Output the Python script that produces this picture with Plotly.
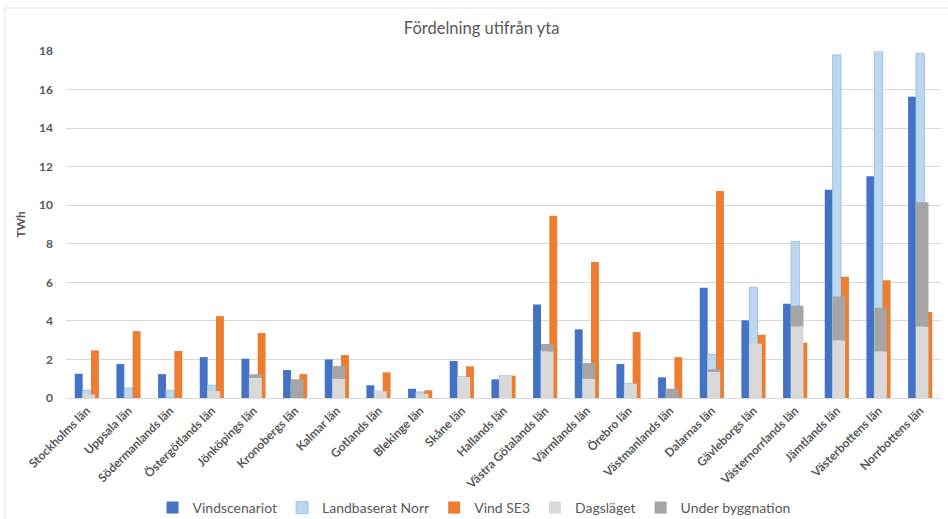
import plotly.graph_objects as go

counties = ["Stockholms län", "Uppsala län", "Södermanlands län", "Östergötlands län",
            "Jönköpings län", "Kronobergs län", "Kalmar län", "Gotlands län", "Blekinge län",
            "Skåne län", "Hallands län", "Västra Götalands län", "Värmlands län", "Örebro län",
            "Västmanlands län", "Dalarnas län", "Gävleborgs län", "Västernorrlands län",
            "Jämtlands län", "Västerbottens län", "Norrbottens län"]

vindscenariot = [1.26, 1.76, 1.24, 2.12, 2.04, 1.45, 2.0, 0.66, 0.48, 1.92, 0.97, 4.85, 3.56,
                 1.76, 1.07, 5.72, 4.03, 4.89, 10.8, 11.5, 15.63]
landbaserat_norr = [0.4, 0.52, 0.4, 0.66, 1.1, 0.9, 1.0, 0.35, 0.31, 1.1, 1.17, 2.5, 1.0,
                    0.75, 0.45, 2.26, 5.75, 8.12, 17.8, 19.5, 17.88]
vind_se3 = [2.47, 3.47, 2.44, 4.25, 3.37, 1.24, 2.23, 1.33, 0.4, 1.64, 1.16, 9.45, 7.05,
            3.42, 2.12, 10.74, 3.28, 2.87, 6.29, 6.11, 4.46]
dagslaget = [0.18, 0.0, 0.0, 0.36, 1.04, 0.0, 1.0, 0.35, 0.22, 1.09, 1.17, 2.42, 1.0,
             0.74, 0.0, 1.4, 2.82, 3.71, 2.99, 2.42, 3.71]
under_byggnation = [0.0, 0.0, 0.0, 0.0, 0.19, 0.97, 0.66, 0.0, 0.0, 0.0, 0.0, 0.38, 0.81,
                    0.0, 0.48, 0.09, 0.0, 1.08, 2.28, 2.26, 6.45]

y_ticks = [0, 2, 4, 6, 8, 10, 12, 14, 16, 18]

font_family = "Lato, 'Open Sans', sans-serif"
gray_text = "#595959"

fig = go.Figure()
fig.add_trace(go.Bar(name="Vindscenariot", x=counties, y=vindscenariot,
                     marker=dict(color="#4472C4", line=dict(width=0)),
                     offset=-0.29, width=0.19))
fig.add_trace(go.Bar(name="Landbaserat Norr", x=counties, y=landbaserat_norr,
                     marker=dict(color="#BDD7EE", line=dict(color="#9DC3E6", width=1)),
                     offset=-0.1, width=0.2))
fig.add_trace(go.Bar(name="Vind SE3", x=counties, y=vind_se3,
                     marker=dict(color="#ED7D31", line=dict(width=0)),
                     offset=0.1, width=0.19))
fig.add_trace(go.Bar(name="Dagsläget", x=counties, y=dagslaget,
                     marker=dict(color="#D9D9D9", line=dict(width=0)),
                     offset=-0.1, width=0.3))
fig.add_trace(go.Bar(name="Under byggnation", x=counties, y=under_byggnation, base=dagslaget,
                     marker=dict(color="#A5A5A5", line=dict(width=0)),
                     offset=-0.1, width=0.3))

fig.update_layout(
    barmode="overlay",
    width=948, height=519,
    margin=dict(l=66, r=7, t=51, b=121, autoexpand=False),
    paper_bgcolor="white", plot_bgcolor="white",
    font=dict(family=font_family, color=gray_text),
    title=dict(text="Fördelning utifrån yta", x=0.508, xanchor="center",
               y=1 - 28 / 519, yanchor="middle", yref="container",
               font=dict(size=16.5, color=gray_text, family=font_family)),
    legend=dict(orientation="h", x=0.5, xanchor="center", xref="container",
                y=1 - 508 / 519, yanchor="middle", yref="container",
                font=dict(size=14, color=gray_text), itemwidth=30,
                traceorder="normal"),
    showlegend=True,
    shapes=[
        dict(type="line", xref="paper", yref="paper",
             x0=-61 / 875, x1=1 + 7 / 875, y0=1 + 43 / 347, y1=1 + 43 / 347,
             line=dict(color="#e3e3e3", width=1)),
        dict(type="line", xref="paper", yref="paper",
             x0=-61 / 875, x1=-61 / 875, y0=1 + 43 / 347, y1=-121 / 347,
             line=dict(color="#e3e3e3", width=1)),
    ],
)

fig.update_yaxes(range=[0, 18], tickvals=y_ticks, showgrid=True, gridcolor="#D9D9D9",
                 gridwidth=1, zeroline=False, showline=False, automargin=False,
                 tickfont=dict(size=12, color=gray_text, family=font_family, weight="bold"),
                 ticklabelstandoff=12,
                 title=dict(text="TWh", standoff=10,
                            font=dict(size=12, color=gray_text, family=font_family, weight="bold")))
fig.update_xaxes(type="category", tickangle=-45, showgrid=False, showline=True,
                 linecolor="#D9D9D9", linewidth=1, ticks="", automargin=False,
                 tickfont=dict(size=12, color=gray_text, family=font_family, weight="bold"))

fig.write_html("out.html")
